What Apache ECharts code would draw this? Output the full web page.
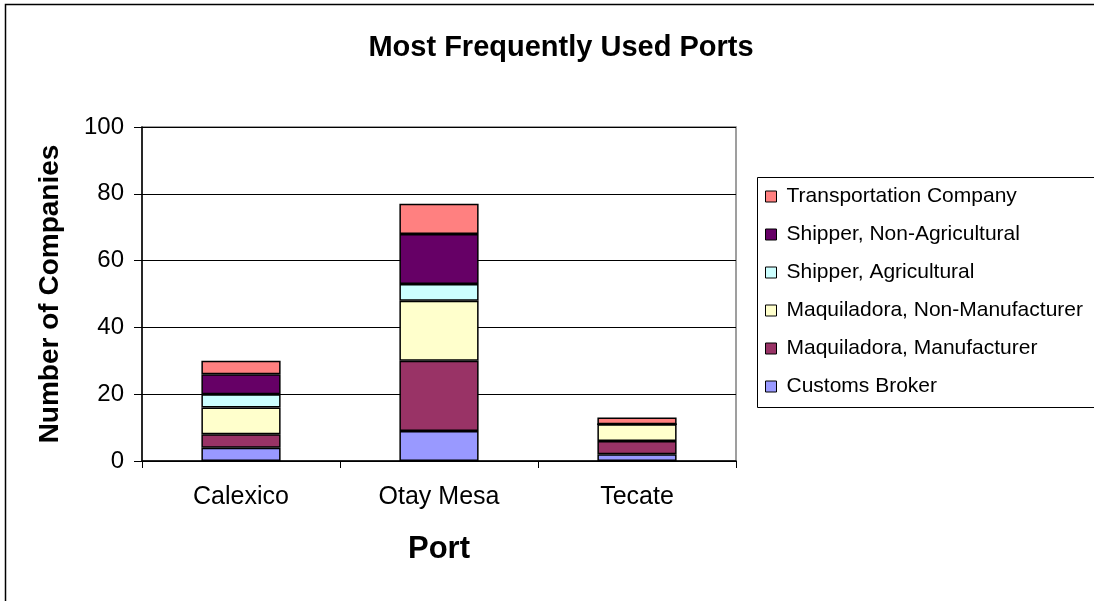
<!DOCTYPE html>
<html>
<head>
<meta charset="utf-8">
<title>Most Frequently Used Ports</title>
<script src="https://cdn.jsdelivr.net/npm/echarts@6/dist/echarts.min.js"></script>
<style>
  html, body { margin: 0; padding: 0; background: #fff; }
  #chart { width: 1094px; height: 601px; }
</style>
</head>
<body>
<div id="chart"></div>
<script>
// Ports on the category axis
var ports = ['Calexico', 'Otay Mesa', 'Tecate'];

// Company counts per port, one array per company type (stacked bottom to top)
var customsBroker = [4, 9, 2];
var maqManufacturer = [4, 21, 4];
var maqNonManufacturer = [8, 18, 5];
var shipperAgricultural = [4, 5, 0];
var shipperNonAgricultural = [6, 15, 0];
var transportationCompany = [4, 9, 2];

var seriesNames = [
  'Customs Broker',
  'Maquiladora, Manufacturer',
  'Maquiladora, Non-Manufacturer',
  'Shipper, Agricultural',
  'Shipper, Non-Agricultural',
  'Transportation Company'
];
var seriesData = [
  customsBroker, maqManufacturer, maqNonManufacturer,
  shipperAgricultural, shipperNonAgricultural, transportationCompany
];
var seriesColors = ['#9999FF', '#993366', '#FFFFCC', '#CCFFFF', '#660066', '#FF8080'];

// Value axis ticks
var yMin = 0, yMax = 100, yStep = 20;

var FONT = '"Liberation Sans", Arial, sans-serif';

var chart = echarts.init(document.getElementById('chart'), null, { renderer: 'canvas' });

var series = seriesNames.map(function (name, i) {
  return {
    name: name,
    type: 'bar',
    stack: 'ports',
    barWidth: '40%',
    data: seriesData[i],
    itemStyle: { color: seriesColors[i], borderColor: '#000', borderWidth: 1.5 },
    emphasis: { disabled: true }
  };
});

chart.setOption({
  animation: false,
  backgroundColor: '#fff',
  title: {
    text: 'Most Frequently Used Ports',
    left: 556,
    top: 28,
    textAlign: 'center',
    textStyle: { fontFamily: FONT, fontSize: 29, fontWeight: 'bold', color: '#000' }
  },
  graphic: [
    // outer chart frame
    { type: 'rect', shape: { x: 5.5, y: 4.5, width: 1200, height: 700 },
      style: { fill: 'none', stroke: '#000', lineWidth: 1.5 }, silent: true },
    // legend frame
    { type: 'rect', shape: { x: 757.5, y: 177.5, width: 400, height: 230 },
      style: { fill: '#fff', stroke: '#000', lineWidth: 1 }, silent: true, z: 0 }
  ],
  legend: {
    orient: 'vertical',
    left: 765,
    top: 186,
    padding: 0,
    data: seriesNames.slice().reverse(),
    icon: 'rect',
    itemWidth: 11,
    itemHeight: 11,
    itemGap: 17,
    selectedMode: false,
    z: 5,
    itemStyle: { borderColor: '#000', borderWidth: 1 },
    textStyle: { fontFamily: FONT, fontSize: 21, color: '#000', lineHeight: 21, padding: [0, 0, 0, 5] }
  },
  grid: {
    left: 142,
    top: 127,
    width: 594,
    height: 334,
    show: true,
    borderColor: '#808080',
    borderWidth: 1.5,
    backgroundColor: 'transparent'
  },
  xAxis: {
    type: 'category',
    data: ports,
    name: 'Port',
    nameLocation: 'middle',
    nameGap: 73,
    nameTextStyle: { fontFamily: FONT, fontSize: 31, fontWeight: 'bold', color: '#000' },
    axisLine: { lineStyle: { color: '#000', width: 1.5 } },
    axisTick: { show: true, length: 7, interval: 0, lineStyle: { color: '#000' } },
    axisLabel: { fontFamily: FONT, fontSize: 25, color: '#000', margin: 24, interval: 0 }
  },
  yAxis: {
    type: 'value',
    min: yMin,
    max: yMax,
    interval: yStep,
    name: 'Number of Companies',
    nameLocation: 'middle',
    nameGap: 78,
    nameTextStyle: { fontFamily: FONT, fontSize: 28, fontWeight: 'bold', color: '#000' },
    axisLine: { show: true, lineStyle: { color: '#000', width: 1.5 } },
    axisTick: { show: true, length: 8, lineStyle: { color: '#000' } },
    axisLabel: { fontFamily: FONT, fontSize: 24, color: '#000', margin: 18 },
    splitLine: { show: true, lineStyle: { color: '#000', width: 1.2 } }
  },
  series: series
});
</script>
</body>
</html>
